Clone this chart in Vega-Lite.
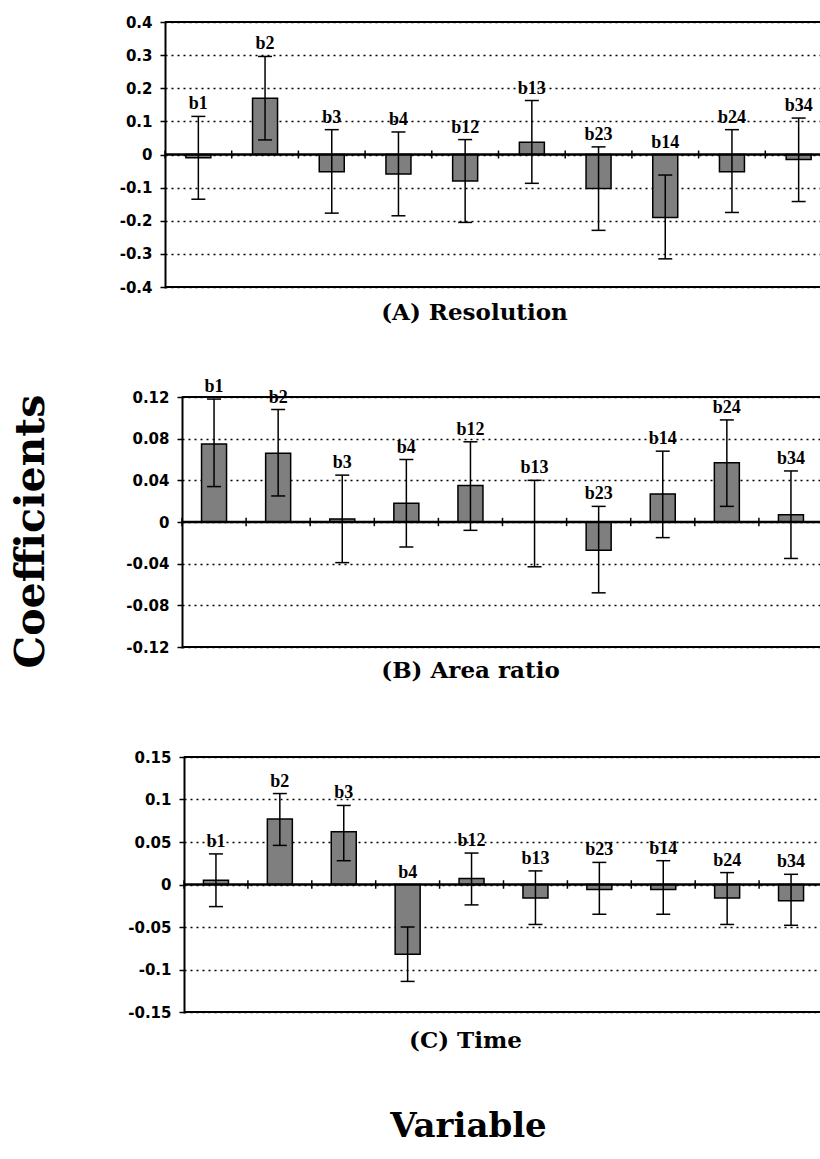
{
  "$schema": "https://vega.github.io/schema/vega-lite/v6.json",
  "padding": {"left": 10, "top": 15, "right": 0, "bottom": 5},
  "background": "white",
  "datasets": {
    "A": [
      {"term": "b1", "value": -0.01, "lo": -0.135, "hi": 0.115},
      {"term": "b2", "value": 0.17, "lo": 0.044, "hi": 0.296},
      {"term": "b3", "value": -0.052, "lo": -0.177, "hi": 0.075},
      {"term": "b4", "value": -0.059, "lo": -0.185, "hi": 0.068},
      {"term": "b12", "value": -0.08, "lo": -0.205, "hi": 0.045},
      {"term": "b13", "value": 0.037, "lo": -0.087, "hi": 0.163},
      {"term": "b23", "value": -0.103, "lo": -0.229, "hi": 0.023},
      {"term": "b14", "value": -0.19, "lo": -0.315, "hi": -0.062},
      {"term": "b24", "value": -0.052, "lo": -0.175, "hi": 0.075},
      {"term": "b34", "value": -0.015, "lo": -0.142, "hi": 0.11}
    ],
    "B": [
      {"term": "b1", "value": 0.075, "lo": 0.034, "hi": 0.118},
      {"term": "b2", "value": 0.066, "lo": 0.025, "hi": 0.108},
      {"term": "b3", "value": 0.003, "lo": -0.039, "hi": 0.045},
      {"term": "b4", "value": 0.018, "lo": -0.024, "hi": 0.06},
      {"term": "b12", "value": 0.035, "lo": -0.008, "hi": 0.077},
      {"term": "b13", "value": 0.0, "lo": -0.043, "hi": 0.04},
      {"term": "b23", "value": -0.027, "lo": -0.068, "hi": 0.015},
      {"term": "b14", "value": 0.027, "lo": -0.015, "hi": 0.068},
      {"term": "b24", "value": 0.057, "lo": 0.015, "hi": 0.098},
      {"term": "b34", "value": 0.007, "lo": -0.035, "hi": 0.049}
    ],
    "C": [
      {"term": "b1", "value": 0.005, "lo": -0.026, "hi": 0.036},
      {"term": "b2", "value": 0.077, "lo": 0.046, "hi": 0.107},
      {"term": "b3", "value": 0.062, "lo": 0.028, "hi": 0.093},
      {"term": "b4", "value": -0.082, "lo": -0.114, "hi": -0.05},
      {"term": "b12", "value": 0.007, "lo": -0.024, "hi": 0.037},
      {"term": "b13", "value": -0.016, "lo": -0.047, "hi": 0.016},
      {"term": "b23", "value": -0.006, "lo": -0.035, "hi": 0.026},
      {"term": "b14", "value": -0.006, "lo": -0.035, "hi": 0.028},
      {"term": "b24", "value": -0.016, "lo": -0.047, "hi": 0.014},
      {"term": "b34", "value": -0.019, "lo": -0.048, "hi": 0.012}
    ]
  },
  "title": {"text": "Variable", "orient": "bottom", "font": "DejaVu Serif", "fontSize": 34, "fontWeight": "bold", "color": "black", "offset": 57, "frame": "group", "anchor": "middle", "dx": -33},
  "vconcat": [
    {
      "data": {"name": "A"},
      "width": 639,
      "height": 265,
      "title": {"text": "(A) Resolution", "orient": "bottom", "frame": "group", "anchor": "middle", "dx": -27, "offset": 7},
      "transform": [{"calculate": "max(datum.hi, 0)", "as": "labelY"}],
      "encoding": {
        "x": {"field": "term", "type": "nominal", "axis": null,
              "scale": {"type": "band", "domain": ["b1","b2","b3","b4","b12","b13","b23","b14","b24","b34"], "range": [-17, 650], "paddingInner": 0, "paddingOuter": 0}}
      },
      "layer": [
        {
          "mark": {"type": "bar", "width": 25, "fill": "#7f7f7f", "stroke": "black", "strokeWidth": 1.5},
          "encoding": {
            "y": {"field": "value", "type": "quantitative", "scale": {"domain": [-0.4, 0.4], "nice": false},
                  "axis": {"values": [-0.4,-0.3,-0.2,-0.1,0,0.1,0.2,0.3,0.4], "tickCount": 12, "labelOverlap": false, "offset": 17, "grid": true, "title": null,
                           "labelExpr": "replace(format(datum.value, '~g'), '\u2212', '-')"}},
            "y2": {"datum": 0}
          }
        },
        {
          "transform": [{"aggregate": [{"op": "count", "as": "n"}]}],
          "mark": {"type": "rule", "color": "black", "strokeWidth": 2},
          "encoding": {"x": {"datum": "b1", "type": "nominal", "bandPosition": 0, "axis": null}, "x2": {"value": "width"},
                       "y": {"datum": 0.4, "type": "quantitative", "scale": {"domain": [-0.4, 0.4], "nice": false}}}
        },
        {
          "transform": [{"aggregate": [{"op": "count", "as": "n"}]}],
          "mark": {"type": "rule", "color": "black", "strokeWidth": 2},
          "encoding": {"x": {"datum": "b1", "type": "nominal", "bandPosition": 0, "axis": null}, "x2": {"value": "width"},
                       "y": {"datum": -0.4, "type": "quantitative", "scale": {"domain": [-0.4, 0.4], "nice": false}}}
        },
        {
          "transform": [{"aggregate": [{"op": "count", "as": "n"}]}],
          "mark": {"type": "rule", "color": "black", "strokeWidth": 2.5},
          "encoding": {"x": {"datum": "b1", "type": "nominal", "bandPosition": 0, "axis": null}, "x2": {"value": "width"},
                       "y": {"datum": 0, "type": "quantitative", "scale": {"domain": [-0.4, 0.4], "nice": false}}}
        },
        {
          "mark": {"type": "rule", "color": "black", "strokeWidth": 1.5},
          "encoding": {"x": {"field": "term", "type": "nominal", "bandPosition": 0, "axis": null},
                       "y": {"datum": -0.012, "type": "quantitative", "scale": {"domain": [-0.4, 0.4], "nice": false}},
                       "y2": {"datum": 0.012}}
        },
        {
          "mark": {"type": "rule", "color": "black", "strokeWidth": 1.5},
          "encoding": {"y": {"field": "lo", "type": "quantitative", "scale": {"domain": [-0.4, 0.4], "nice": false}}, "y2": {"field": "hi"}}
        },
        {
          "mark": {"type": "tick", "color": "black", "size": 14, "thickness": 1.5, "opacity": 1},
          "encoding": {"y": {"field": "lo", "type": "quantitative", "scale": {"domain": [-0.4, 0.4], "nice": false}}}
        },
        {
          "mark": {"type": "tick", "color": "black", "size": 14, "thickness": 1.5, "opacity": 1},
          "encoding": {"y": {"field": "hi", "type": "quantitative", "scale": {"domain": [-0.4, 0.4], "nice": false}}}
        },
        {
          "mark": {"type": "text", "font": "Liberation Serif", "fontSize": 18, "fontWeight": "bold", "baseline": "alphabetic", "dy": -7, "color": "black"},
          "encoding": {"y": {"field": "labelY", "type": "quantitative", "scale": {"domain": [-0.4, 0.4], "nice": false}},
                       "text": {"field": "term"}}
        }
      ]
    },
    {
      "data": {"name": "B"},
      "width": 639,
      "height": 250,
      "title": {"text": "(B) Area ratio", "orient": "bottom", "frame": "group", "anchor": "middle", "dx": -31, "offset": -8},
      "transform": [{"calculate": "max(datum.hi, 0)", "as": "labelY"}],
      "encoding": {
        "x": {"field": "term", "type": "nominal", "axis": null,
              "scale": {"type": "band", "domain": ["b1","b2","b3","b4","b12","b13","b23","b14","b24","b34"], "range": [0, 641], "paddingInner": 0, "paddingOuter": 0}}
      },
      "layer": [
        {
          "mark": {"type": "bar", "width": 25, "fill": "#7f7f7f", "stroke": "black", "strokeWidth": 1.5},
          "encoding": {
            "y": {"field": "value", "type": "quantitative", "scale": {"domain": [-0.12, 0.12], "nice": false},
                  "axis": {"values": [-0.12,-0.08,-0.04,0,0.04,0.08,0.12], "tickCount": 12, "labelOverlap": false, "offset": 0, "grid": true,
                           "title": "Coefficients", "titleFont": "DejaVu Serif", "titleFontSize": 41, "titleFontWeight": "bold", "titleColor": "black",
                           "titleX": -139, "titleY": 134, "titleBaseline": "alphabetic", "titleAngle": 270,
                           "labelExpr": "replace(format(datum.value, '~g'), '\u2212', '-')"}},
            "y2": {"datum": 0}
          }
        },
        {
          "transform": [{"aggregate": [{"op": "count", "as": "n"}]}],
          "mark": {"type": "rule", "color": "black", "strokeWidth": 2},
          "encoding": {"x": {"datum": "b1", "type": "nominal", "bandPosition": 0, "axis": null}, "x2": {"value": "width"},
                       "y": {"datum": 0.12, "type": "quantitative", "scale": {"domain": [-0.12, 0.12], "nice": false}}}
        },
        {
          "transform": [{"aggregate": [{"op": "count", "as": "n"}]}],
          "mark": {"type": "rule", "color": "black", "strokeWidth": 2},
          "encoding": {"x": {"datum": "b1", "type": "nominal", "bandPosition": 0, "axis": null}, "x2": {"value": "width"},
                       "y": {"datum": -0.12, "type": "quantitative", "scale": {"domain": [-0.12, 0.12], "nice": false}}}
        },
        {
          "transform": [{"aggregate": [{"op": "count", "as": "n"}]}],
          "mark": {"type": "rule", "color": "black", "strokeWidth": 2.5},
          "encoding": {"x": {"datum": "b1", "type": "nominal", "bandPosition": 0, "axis": null}, "x2": {"value": "width"},
                       "y": {"datum": 0, "type": "quantitative", "scale": {"domain": [-0.12, 0.12], "nice": false}}}
        },
        {
          "mark": {"type": "rule", "color": "black", "strokeWidth": 1.5},
          "encoding": {"x": {"field": "term", "type": "nominal", "bandPosition": 0, "axis": null},
                       "y": {"datum": -0.004, "type": "quantitative", "scale": {"domain": [-0.12, 0.12], "nice": false}},
                       "y2": {"datum": 0.004}}
        },
        {
          "mark": {"type": "rule", "color": "black", "strokeWidth": 1.5},
          "encoding": {"y": {"field": "lo", "type": "quantitative", "scale": {"domain": [-0.12, 0.12], "nice": false}}, "y2": {"field": "hi"}}
        },
        {
          "mark": {"type": "tick", "color": "black", "size": 14, "thickness": 1.5, "opacity": 1},
          "encoding": {"y": {"field": "lo", "type": "quantitative", "scale": {"domain": [-0.12, 0.12], "nice": false}}}
        },
        {
          "mark": {"type": "tick", "color": "black", "size": 14, "thickness": 1.5, "opacity": 1},
          "encoding": {"y": {"field": "hi", "type": "quantitative", "scale": {"domain": [-0.12, 0.12], "nice": false}}}
        },
        {
          "mark": {"type": "text", "font": "Liberation Serif", "fontSize": 18, "fontWeight": "bold", "baseline": "alphabetic", "dy": -7, "color": "black"},
          "encoding": {"y": {"field": "labelY", "type": "quantitative", "scale": {"domain": [-0.12, 0.12], "nice": false}},
                       "text": {"field": "term"}}
        }
      ]
    },
    {
      "data": {"name": "C"},
      "width": 639,
      "height": 255,
      "title": {"text": "(C) Time", "orient": "bottom", "frame": "group", "anchor": "middle", "dx": -36, "offset": 10},
      "transform": [{"calculate": "max(datum.hi, 0)", "as": "labelY"}],
      "encoding": {
        "x": {"field": "term", "type": "nominal", "axis": null,
              "scale": {"type": "band", "domain": ["b1","b2","b3","b4","b12","b13","b23","b14","b24","b34"], "range": [2, 641], "paddingInner": 0, "paddingOuter": 0}}
      },
      "layer": [
        {
          "mark": {"type": "bar", "width": 25, "fill": "#7f7f7f", "stroke": "black", "strokeWidth": 1.5},
          "encoding": {
            "y": {"field": "value", "type": "quantitative", "scale": {"domain": [-0.15, 0.15], "nice": false},
                  "axis": {"values": [-0.15,-0.1,-0.05,0,0.05,0.1,0.15], "tickCount": 12, "labelOverlap": false, "offset": -2, "grid": true, "title": null,
                           "labelExpr": "replace(format(datum.value, '~g'), '\u2212', '-')"}},
            "y2": {"datum": 0}
          }
        },
        {
          "transform": [{"aggregate": [{"op": "count", "as": "n"}]}],
          "mark": {"type": "rule", "color": "black", "strokeWidth": 2},
          "encoding": {"x": {"datum": "b1", "type": "nominal", "bandPosition": 0, "axis": null}, "x2": {"value": "width"},
                       "y": {"datum": 0.15, "type": "quantitative", "scale": {"domain": [-0.15, 0.15], "nice": false}}}
        },
        {
          "transform": [{"aggregate": [{"op": "count", "as": "n"}]}],
          "mark": {"type": "rule", "color": "black", "strokeWidth": 2},
          "encoding": {"x": {"datum": "b1", "type": "nominal", "bandPosition": 0, "axis": null}, "x2": {"value": "width"},
                       "y": {"datum": -0.15, "type": "quantitative", "scale": {"domain": [-0.15, 0.15], "nice": false}}}
        },
        {
          "transform": [{"aggregate": [{"op": "count", "as": "n"}]}],
          "mark": {"type": "rule", "color": "black", "strokeWidth": 2.5},
          "encoding": {"x": {"datum": "b1", "type": "nominal", "bandPosition": 0, "axis": null}, "x2": {"value": "width"},
                       "y": {"datum": 0, "type": "quantitative", "scale": {"domain": [-0.15, 0.15], "nice": false}}}
        },
        {
          "mark": {"type": "rule", "color": "black", "strokeWidth": 1.5},
          "encoding": {"x": {"field": "term", "type": "nominal", "bandPosition": 0, "axis": null},
                       "y": {"datum": -0.005, "type": "quantitative", "scale": {"domain": [-0.15, 0.15], "nice": false}},
                       "y2": {"datum": 0.005}}
        },
        {
          "mark": {"type": "rule", "color": "black", "strokeWidth": 1.5},
          "encoding": {"y": {"field": "lo", "type": "quantitative", "scale": {"domain": [-0.15, 0.15], "nice": false}}, "y2": {"field": "hi"}}
        },
        {
          "mark": {"type": "tick", "color": "black", "size": 14, "thickness": 1.5, "opacity": 1},
          "encoding": {"y": {"field": "lo", "type": "quantitative", "scale": {"domain": [-0.15, 0.15], "nice": false}}}
        },
        {
          "mark": {"type": "tick", "color": "black", "size": 14, "thickness": 1.5, "opacity": 1},
          "encoding": {"y": {"field": "hi", "type": "quantitative", "scale": {"domain": [-0.15, 0.15], "nice": false}}}
        },
        {
          "mark": {"type": "text", "font": "Liberation Serif", "fontSize": 18, "fontWeight": "bold", "baseline": "alphabetic", "dy": -7, "color": "black"},
          "encoding": {"y": {"field": "labelY", "type": "quantitative", "scale": {"domain": [-0.15, 0.15], "nice": false}},
                       "text": {"field": "term"}}
        }
      ]
    }
  ],
  "spacing": 110,
  "bounds": "flush",
  "resolve": {"scale": {"x": "independent", "y": "independent"}},
  "config": {
    "font": "DejaVu Sans",
    "view": {"stroke": null},
    "title": {"font": "DejaVu Serif", "fontSize": 23, "fontWeight": "bold", "color": "black"},
    "axis": {
      "labelFont": "DejaVu Sans", "labelFontWeight": "bold", "labelFontSize": 15, "labelColor": "black",
      "domainColor": "black", "domainWidth": 2, "tickColor": "black", "tickWidth": 1.5, "tickSize": 5,
      "labelPadding": 8, "gridColor": "black", "gridDash": [2, 4], "gridWidth": 1.5, "gridOpacity": 1,
      "domainCap": "square"
    }
  }
}
